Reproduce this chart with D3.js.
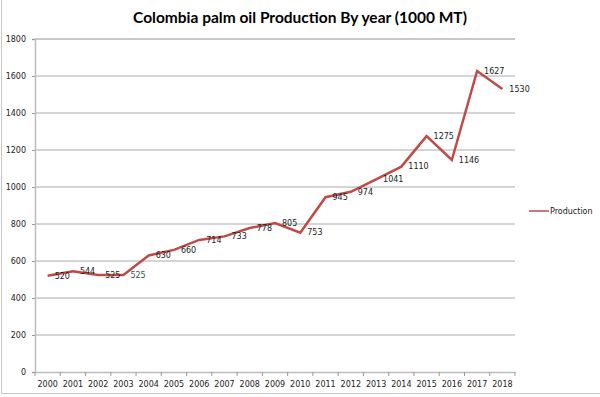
<!DOCTYPE html>
<html>
<head>
<meta charset="utf-8">
<script src="https://cdn.jsdelivr.net/npm/d3@7"></script>
<style>
  body { margin: 0; background: #fff; }
  svg { display: block; }
  .tick text { font-family: "DejaVu Sans", sans-serif; font-size: 8px; fill: #222; }
</style>
</head>
<body>
<svg width="600" height="397"></svg>
<script>
var years = ["2000","2001","2002","2003","2004","2005","2006","2007","2008","2009",
             "2010","2011","2012","2013","2014","2015","2016","2017","2018"];
var production = [520, 544, 525, 525, 630, 660, 714, 733, 778, 805,
                  753, 945, 974, 1041, 1110, 1275, 1146, 1627, 1530];
var yTicks = [0, 200, 400, 600, 800, 1000, 1200, 1400, 1600, 1800];
var seriesName = "Production";
var title = "Colombia palm oil Production By year (1000 MT)";

var svg = d3.select("svg"),
    width = +svg.attr("width"),
    height = +svg.attr("height");

var plot = {left: 35, right: 515, top: 39, bottom: 372};
var red = "#be4b48";

// outer frame (left + bottom edges only visible)
svg.append("line").attr("x1", 1.5).attr("x2", 1.5).attr("y1", 0).attr("y2", 393.5)
    .attr("stroke", "#c8c8c8").attr("stroke-width", 1);
svg.append("line").attr("x1", 1.5).attr("x2", width).attr("y1", 393.5).attr("y2", 393.5)
    .attr("stroke", "#c8c8c8").attr("stroke-width", 1);

var x = d3.scaleBand()
    .domain(years)
    .range([plot.left, plot.right]);

var y = d3.scaleLinear()
    .domain([0, 1800])
    .range([plot.bottom, plot.top]);

// gridlines
svg.append("g")
    .selectAll("line")
    .data(yTicks.filter(d => d > 0))
    .enter().append("line")
      .attr("x1", plot.left)
      .attr("x2", plot.right)
      .attr("y1", d => y(d))
      .attr("y2", d => y(d))
      .attr("stroke", d => d === 1800 ? "#c8c8c8" : "#ababab")
      .attr("stroke-width", d => d === 1800 ? 2 : 1.2);

// y axis
var yAxis = svg.append("g")
    .attr("transform", "translate(" + plot.left + ",0)")
    .call(d3.axisLeft(y).tickValues(yTicks).tickFormat(d3.format("d")).tickSize(3).tickPadding(6));
yAxis.select(".domain").attr("stroke", "#bdbdbd").attr("stroke-width", 1.5);
yAxis.selectAll(".tick line").attr("stroke", "#999");

// x axis, ticks on category boundaries
var xAxis = svg.append("g")
    .attr("transform", "translate(0," + plot.bottom + ")")
    .call(d3.axisBottom(x).tickSize(0).tickPadding(8));
xAxis.select(".domain").attr("stroke", "#bdbdbd").attr("stroke-width", 1.5);
xAxis.selectAll(".tick text").attr("dy", "0.9em");
xAxis.append("g")
    .selectAll("line")
    .data(years.concat(["end"]))
    .enter().append("line")
      .attr("x1", (d, i) => plot.left + i * x.bandwidth())
      .attr("x2", (d, i) => plot.left + i * x.bandwidth())
      .attr("y1", 0)
      .attr("y2", 4)
      .attr("stroke", "#999");

// line
var line = d3.line()
    .x((d, i) => x(years[i]) + x.bandwidth() / 2)
    .y(d => y(d));

svg.append("path")
    .datum(production)
    .attr("fill", "none")
    .attr("stroke", red)
    .attr("stroke-width", 2.5)
    .attr("stroke-linejoin", "miter")
    .attr("d", line);

// data labels to the right of points
svg.append("g")
    .selectAll("text")
    .data(production)
    .enter().append("text")
      .attr("x", (d, i) => x(years[i]) + x.bandwidth() / 2 + 7)
      .attr("y", d => y(d))
      .attr("dy", "0.35em")
      .attr("font-family", "DejaVu Sans, sans-serif")
      .attr("font-size", 8)
      .attr("fill", (d, i) => i === 3 ? "#2f5a3a" : "#222")
      .text(d => d);

// title
svg.append("text")
    .attr("x", 300)
    .attr("y", 23)
    .attr("text-anchor", "middle")
    .attr("font-family", "Lato, sans-serif")
    .attr("font-weight", "bold")
    .attr("font-size", 15.5)
    .attr("fill", "#000")
    .text(title);

// legend
var legend = svg.append("g").attr("transform", "translate(529,211)");
legend.append("line")
    .attr("x1", 0).attr("x2", 20)
    .attr("stroke", red).attr("stroke-width", 1.5);
legend.append("text")
    .attr("x", 21)
    .attr("dy", "0.35em")
    .attr("font-family", "DejaVu Sans, sans-serif")
    .attr("font-size", 8)
    .attr("fill", "#222")
    .text(seriesName);
</script>
</body>
</html>
